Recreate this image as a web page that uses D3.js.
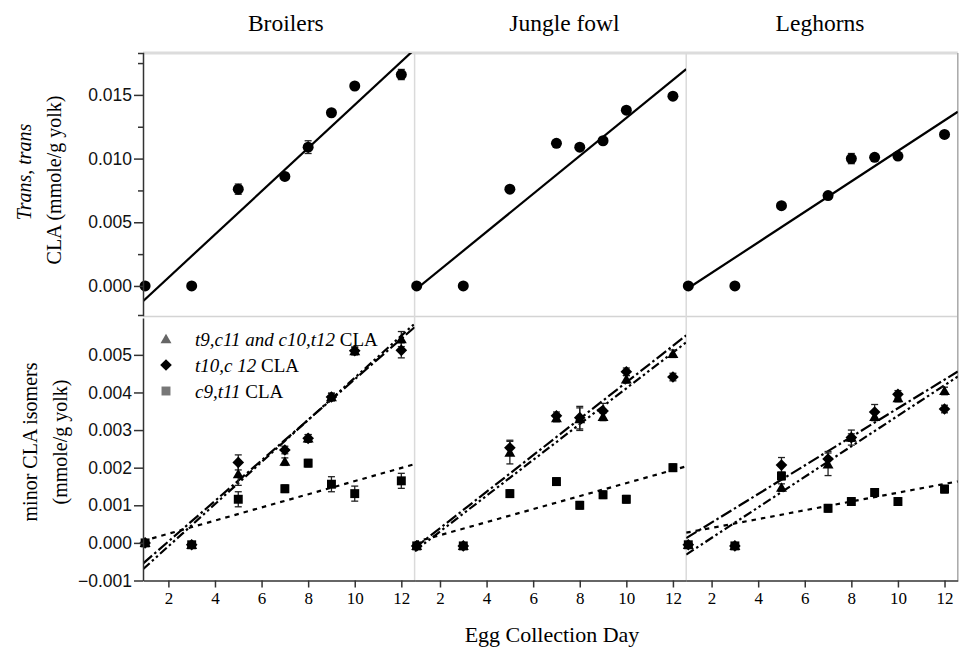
<!DOCTYPE html>
<html><head><meta charset="utf-8">
<script src="https://cdn.jsdelivr.net/npm/d3@7"></script>
<style>body{margin:0;background:#fff} svg{display:block}</style>
</head><body>
<script>
// ---------- data ----------
const days = [1, 3, 5, 7, 8, 9, 10, 12];
const breeds = ["Broilers", "Jungle fowl", "Leghorns"];
const xTicks = [2, 4, 6, 8, 10, 12];
const topTicks = [0, 0.005, 0.010, 0.015];
const topMinorTicks = [0.0025, 0.0075, 0.0125, 0.0175];
const bottomTicks = [-0.001, 0, 0.001, 0.002, 0.003, 0.004, 0.005];

// trans,trans CLA (one array per breed)
const transTrans = [
  [0, 0, 0.0076, 0.0086, 0.0109, 0.0136, 0.0157, 0.0166],
  [0, 0, 0.0076, 0.0112, 0.0109, 0.0114, 0.0138, 0.0149],
  [0, 0, 0.0063, 0.0071, 0.0100, 0.0101, 0.0102, 0.0119]
];
const transTransErr = [
  [0, 0, 0.0004, 0.0002, 0.0005, 0.0002, 0.0001, 0.0004],
  [0, 0, 0.0002, 0.0002, 0.0002, 0.0002, 0.0001, 0.0001],
  [0, 0, 0.0001, 0.0002, 0.0004, 0.0001, 0.0002, 0.0001]
];
const transFitIntercept = [-0.00274, -0.00171, -0.00137];
const transFitSlope = [0.001696, 0.00149, 0.001197];

// minor isomers
const t9c11 = [
  [0, -0.00005, 0.00183, 0.00216, 0.00278, 0.00388, 0.00510, 0.00542],
  [-0.00008, -0.00008, 0.00240, 0.00332, 0.00329, 0.00335, 0.00435, 0.00503],
  [-0.00005, -0.00008, 0.00147, 0.00209, 0.00280, 0.00335, 0.00385, 0.00404]
];
const t9c11Err = [
  [0, 0, 0.0003, 0.0001, 0.0001, 0.0001, 0.0001, 0.0002],
  [0, 0, 0.0003, 0.0001, 0.0003, 0.0001, 0.0001, 0.0001],
  [0, 0, 0.0001, 0.0003, 0.0001, 0.0001, 0.0001, 0.0001]
];
const t10c12 = [
  [0, -0.00005, 0.00214, 0.00247, 0.00278, 0.00388, 0.00511, 0.00512],
  [-0.00008, -0.00008, 0.00253, 0.00338, 0.00333, 0.00351, 0.00455, 0.00441],
  [-0.00005, -0.00008, 0.00207, 0.00223, 0.00280, 0.00348, 0.00395, 0.00356]
];
const t10c12Err = [
  [0, 0, 0.0002, 0.0001, 0.0001, 0.0001, 0.0001, 0.0002],
  [0, 0, 0.0002, 0.0001, 0.0003, 0.0002, 0.0001, 0.0001],
  [0, 0, 0.0002, 0.0002, 0.0002, 0.0002, 0.0001, 0.0001]
];
const c9t11 = [
  [0, -0.00005, 0.00116, 0.00144, 0.00212, 0.00156, 0.00131, 0.00165],
  [-0.00008, -0.00008, 0.00131, 0.00163, 0.00100, 0.00128, 0.00116, 0.00200],
  [-0.00005, -0.00008, 0.00178, 0.00092, 0.00110, 0.00134, 0.00110, 0.00143]
];
const c9t11Err = [
  [0, 0, 0.0002, 0.0001, 0.0001, 0.0002, 0.0002, 0.0002],
  [0, 0, 0.0001, 0.0001, 0.0001, 0.0001, 0.0001, 0.0001],
  [0, 0, 0.0001, 0.0001, 0.0001, 0.0001, 0.0001, 0.0001]
];
const t9c11FitIntercept = [-0.00104, -0.00058, -0.00022];
const t9c11FitSlope = [0.000539, 0.000485, 0.00038];
const t10c12FitIntercept = [-0.00121, -0.00065, -0.00068];
const t10c12FitSlope = [0.00056, 0.000476, 0.000406];
const c9t11FitIntercept = [-0.000107, -0.00014, 0.000165];
const c9t11FitSlope = [0.000175, 0.000173, 0.000117];

const legendLabels = [
  ["t9,c11 and c10,t12", " CLA"],
  ["t10,c 12", " CLA"],
  ["c9,t11", " CLA"]
];

// ---------- layout ----------
const width = 962, height = 655;
const left = 143, W = 271.6;
const topRow = {y0: 53, y1: 315};
const botRow = {y0: 318, y1: 580.5};
const xDomain = [0.91, 12.57];
const serif = "'Liberation Serif','Times New Roman',serif";
const sans = "'Liberation Sans',Arial,sans-serif";

const svg = d3.select("body").append("svg").attr("width", width).attr("height", height);
const defs = svg.append("defs");

const yTop = d3.scaleLinear().domain([-0.00228, 0.01829]).range([topRow.y1, topRow.y0]);
const yBot = d3.scaleLinear().domain([-0.001, 0.00598]).range([botRow.y1, botRow.y0]);

const triSym = d3.symbol().type(d3.symbolTriangle).size(52);
const sqSym = d3.symbol().type(d3.symbolSquare).size(80);
const diaSym = d3.symbol().type(d3.symbolSquare).size(68);

// panel frames (light grey)
svg.append("line").attr("x1", left).attr("x2", left + 3 * W).attr("y1", topRow.y0).attr("y2", topRow.y0)
  .attr("stroke", "#dcdcdc").attr("stroke-width", 3);
svg.append("line").attr("x1", left).attr("x2", left + 3 * W).attr("y1", 316.5).attr("y2", 316.5)
  .attr("stroke", "#d4d4d4").attr("stroke-width", 1.5);
[1, 2].forEach(i => {
  svg.append("line").attr("x1", left + i * W).attr("x2", left + i * W).attr("y1", topRow.y0).attr("y2", botRow.y1)
    .attr("stroke", "#dadada").attr("stroke-width", 1.5);
});
svg.append("line").attr("x1", left + 3 * W).attr("x2", left + 3 * W).attr("y1", topRow.y0).attr("y2", botRow.y1)
  .attr("stroke", "#a8a8a8").attr("stroke-width", 1.5);

function errorBars(g, x, y, vals, errs) {
  days.forEach((d, i) => {
    if (!errs[i]) return;
    const cx = x(d), ya = y(vals[i] - errs[i]), yb = y(vals[i] + errs[i]);
    g.append("line").attr("x1", cx).attr("x2", cx).attr("y1", ya).attr("y2", yb).attr("stroke", "#222").attr("stroke-width", 1.3);
    [ya, yb].forEach(yy => g.append("line").attr("x1", cx - 3.5).attr("x2", cx + 3.5).attr("y1", yy).attr("y2", yy)
      .attr("stroke", "#222").attr("stroke-width", 1.3));
  });
}

function fitLine(g, x, y, b0, b1, dash, clipId) {
  const pts = xDomain.map(d => [d, b0 + b1 * d]);
  g.append("path").attr("d", d3.line().x(p => x(p[0])).y(p => y(p[1]))(pts))
    .attr("fill", "none").attr("stroke", "#000").attr("stroke-width", 2.2)
    .attr("stroke-dasharray", dash).attr("clip-path", `url(#${clipId})`);
}

breeds.forEach((b, bi) => {
  const x0 = left + bi * W;
  const x = d3.scaleLinear().domain(xDomain).range([x0, x0 + W]);

  // clips
  defs.append("clipPath").attr("id", "ct" + bi).append("rect")
    .attr("x", x0).attr("y", topRow.y0).attr("width", W).attr("height", topRow.y1 - topRow.y0);
  defs.append("clipPath").attr("id", "cb" + bi).append("rect")
    .attr("x", x0).attr("y", botRow.y0).attr("width", W).attr("height", botRow.y1 - botRow.y0);

  // column title
  svg.append("text").attr("x", x0 + W / 2 + [7, 14, -2][bi]).attr("y", 31)
    .attr("text-anchor", "middle").attr("font-family", serif).attr("font-size", 23.5).text(b);

  // ---- top panel ----
  const gt = svg.append("g");
  fitLine(gt, x, yTop, transFitIntercept[bi], transFitSlope[bi], null, "ct" + bi);
  errorBars(gt, x, yTop, transTrans[bi], transTransErr[bi]);
  gt.selectAll("circle").data(days).join("circle")
    .attr("cx", d => x(d)).attr("cy", (d, i) => yTop(transTrans[bi][i])).attr("r", 5.5).attr("fill", "#000");

  // ---- bottom panel ----
  const gb = svg.append("g");
  fitLine(gb, x, yBot, c9t11FitIntercept[bi], c9t11FitSlope[bi], "4.5,5", "cb" + bi);
  fitLine(gb, x, yBot, t10c12FitIntercept[bi], t10c12FitSlope[bi], "9,3,2.5,3,2.5,3", "cb" + bi);
  fitLine(gb, x, yBot, t9c11FitIntercept[bi], t9c11FitSlope[bi], "12,3,2.5,3", "cb" + bi);

  errorBars(gb, x, yBot, c9t11[bi], c9t11Err[bi]);
  errorBars(gb, x, yBot, t10c12[bi], t10c12Err[bi]);
  errorBars(gb, x, yBot, t9c11[bi], t9c11Err[bi]);

  gb.append("g").selectAll("path").data(days).join("path")
    .attr("d", sqSym).attr("fill", "#000")
    .attr("transform", (d, i) => `translate(${x(d)},${yBot(c9t11[bi][i])})`);
  gb.append("g").selectAll("path").data(days).join("path")
    .attr("d", diaSym).attr("fill", "#000")
    .attr("transform", (d, i) => `translate(${x(d)},${yBot(t10c12[bi][i])}) rotate(45)`);
  gb.append("g").selectAll("path").data(days).join("path")
    .attr("d", triSym).attr("fill", "#000")
    .attr("transform", (d, i) => `translate(${x(d)},${yBot(t9c11[bi][i]) + 1})`);

  // x axis
  const xa = svg.append("g").attr("transform", `translate(0,${botRow.y1})`)
    .call(d3.axisBottom(x).tickValues(xTicks).tickSize(7).tickSizeOuter(0).tickPadding(4));
  xa.selectAll("path, line").attr("stroke", "#333").attr("stroke-width", 1.5);
  xa.selectAll("text").attr("font-family", serif).attr("font-size", 17).attr("fill", "#000");
});

// y axes
const yaT = svg.append("g").attr("transform", `translate(${left},0)`)
  .call(d3.axisLeft(yTop).tickValues(topTicks).tickSize(9).tickSizeOuter(5).tickPadding(2)
    .tickFormat(d3.format(".3f")));
const yaTm = svg.append("g").attr("transform", `translate(${left},0)`)
  .call(d3.axisLeft(yTop).tickValues(topMinorTicks).tickSize(5).tickFormat(""));
yaTm.select(".domain").remove();
const yaB = svg.append("g").attr("transform", `translate(${left},0)`)
  .call(d3.axisLeft(yBot).tickValues(bottomTicks).tickSize(9).tickSizeOuter(0).tickPadding(2)
    .tickFormat(d3.format(".3f")));
[yaT, yaTm, yaB].forEach(a => {
  a.selectAll("path, line").attr("stroke", "#333").attr("stroke-width", 1.5);
  a.selectAll("text").attr("font-family", sans).attr("font-size", 17.5).attr("fill", "#111");
});

// legend (Broilers bottom panel)
const legSyms = [
  {sym: triSym, fill: "#666", rot: 0, dy: 1},
  {sym: diaSym, fill: "#000", rot: 45, dy: 0},
  {sym: sqSym, fill: "#777", rot: 0, dy: 0}
];
const legY = [339, 365, 391];
legendLabels.forEach((lab, i) => {
  svg.append("path").attr("d", legSyms[i].sym).attr("fill", legSyms[i].fill)
    .attr("transform", `translate(166,${legY[i] + legSyms[i].dy}) rotate(${legSyms[i].rot})`);
  const t = svg.append("text").attr("x", 195).attr("y", legY[i] + 6.5)
    .attr("font-family", serif).attr("font-size", 19).attr("fill", "#000");
  t.append("tspan").attr("font-style", "italic").text(lab[0]);
  t.append("tspan").text(lab[1]);
});

// axis titles
function vTitle(xc, yc, parts) {
  const t = svg.append("text").attr("transform", `translate(${xc},${yc}) rotate(-90)`)
    .attr("text-anchor", "middle").attr("font-family", serif).attr("font-size", 20).attr("fill", "#000");
  parts.forEach(p => t.append("tspan").attr("font-style", p[1] ? "italic" : "normal").text(p[0]));
}
vTitle(31, 172, [["Trans, trans", true]]);
vTitle(61, 180, [["CLA  (mmole/g yolk)", false]]);
vTitle(37, 442, [["minor CLA  isomers", false]]);
vTitle(67, 442, [["(mmole/g yolk)", false]]);

svg.append("text").attr("x", 552).attr("y", 642).attr("text-anchor", "middle")
  .attr("font-family", serif).attr("font-size", 22).attr("fill", "#000").text("Egg  Collection Day");
</script>
</body></html>
